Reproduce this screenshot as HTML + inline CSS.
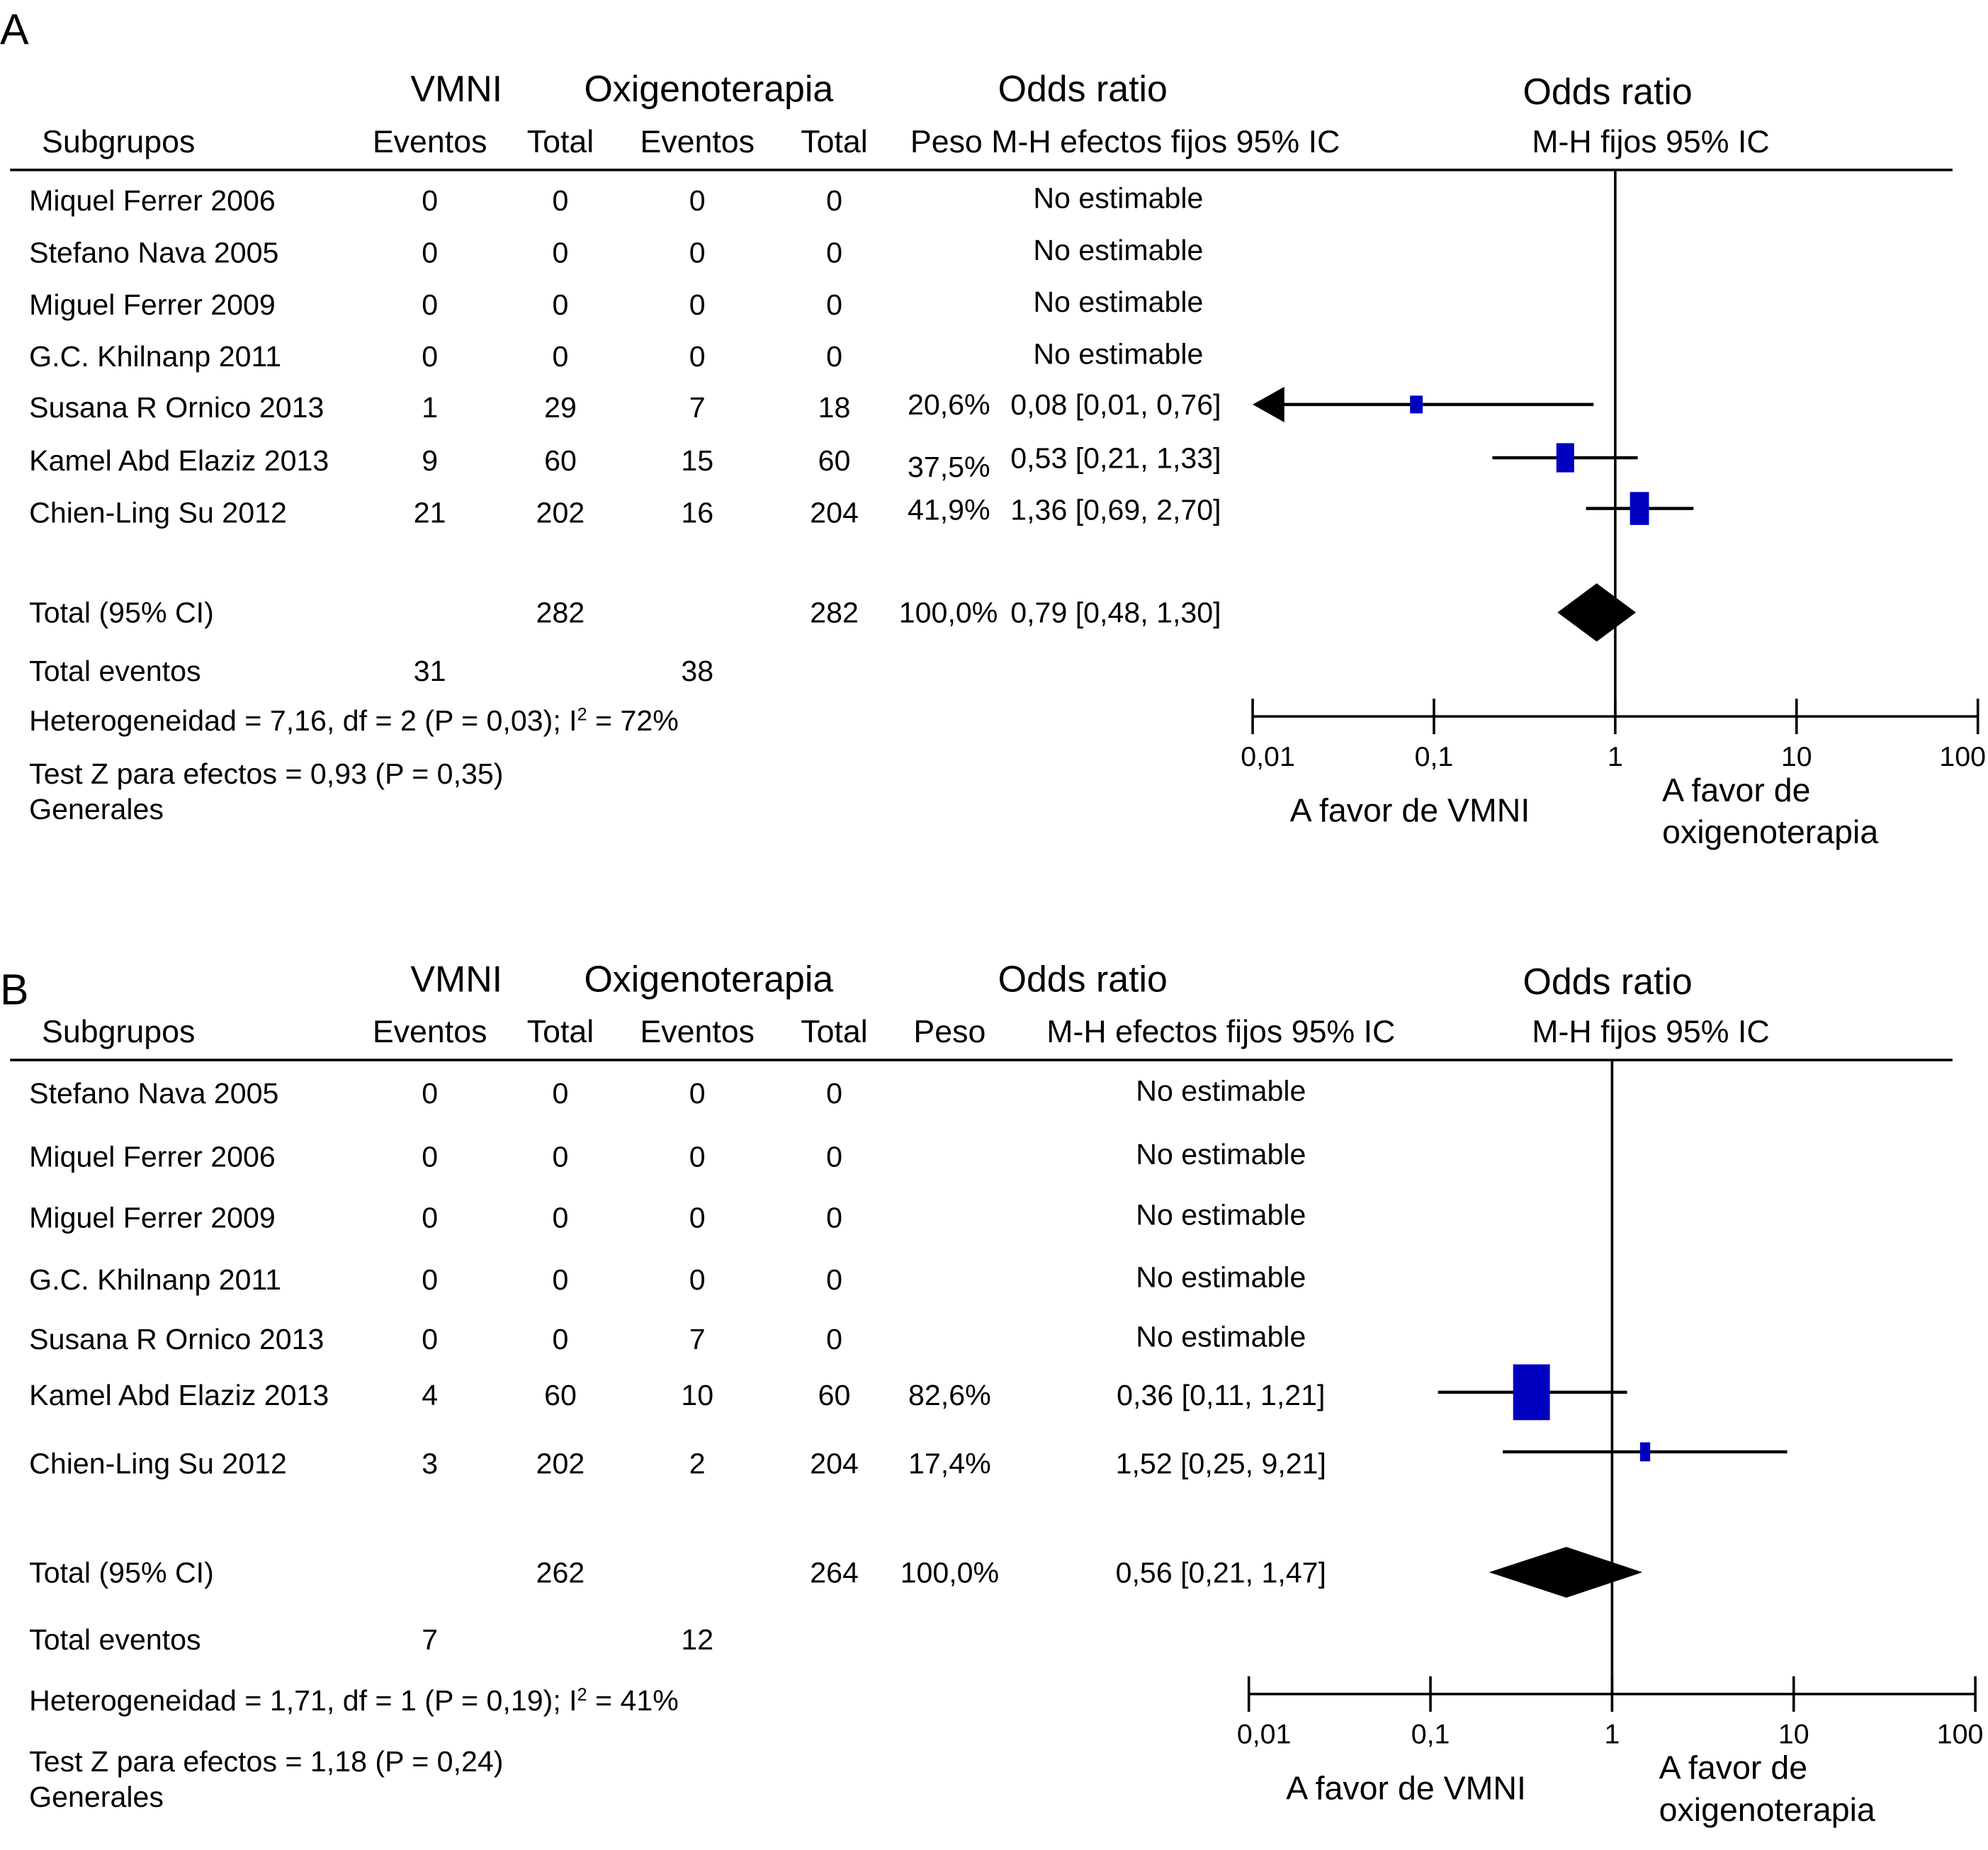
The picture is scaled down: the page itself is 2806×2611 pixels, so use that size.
<!DOCTYPE html>
<html><head><meta charset="utf-8"><style>
html,body{margin:0;padding:0;background:#fff}
svg{display:block}
text{font-family:"Liberation Sans",Arial,sans-serif;fill:#000}
</style></head><body>
<svg id="fig" width="2806" height="2611" viewBox="0 0 1568 1459" xmlns="http://www.w3.org/2000/svg"></svg>
<script>
// ---------- Panel A data ----------
const studiesA = ["Miquel Ferrer 2006","Stefano Nava 2005","Miguel Ferrer 2009","G.C. Khilnanp 2011","Susana R Ornico 2013","Kamel Abd Elaziz 2013","Chien-Ling Su 2012"];
const vmniEvA = ["0","0","0","0","1","9","21"];
const vmniTotA = ["0","0","0","0","29","60","202"];
const oxiEvA = ["0","0","0","0","7","15","16"];
const oxiTotA = ["0","0","0","0","18","60","204"];
const pesoA = ["","","","","20,6%","37,5%","41,9%"];
const orTextA = ["No estimable","No estimable","No estimable","No estimable","0,08 [0,01, 0,76]","0,53 [0,21, 1,33]","1,36 [0,69, 2,70]"];
const orA = [null,null,null,null,0.08,0.53,1.36];
const loA = [null,null,null,null,0.01,0.21,0.69];
const hiA = [null,null,null,null,0.76,1.33,2.70];
const wA = [0,0,0,0,20.6,37.5,41.9];
const totalA = {or:0.79, lo:0.48, hi:1.30};
// ---------- Panel B data ----------
const studiesB = ["Stefano Nava 2005","Miquel Ferrer 2006","Miguel Ferrer 2009","G.C. Khilnanp 2011","Susana R Ornico 2013","Kamel Abd Elaziz 2013","Chien-Ling Su 2012"];
const vmniEvB = ["0","0","0","0","0","4","3"];
const vmniTotB = ["0","0","0","0","0","60","202"];
const oxiEvB = ["0","0","0","0","7","10","2"];
const oxiTotB = ["0","0","0","0","0","60","204"];
const pesoB = ["","","","","","82,6%","17,4%"];
const orTextB = ["No estimable","No estimable","No estimable","No estimable","No estimable","0,36 [0,11, 1,21]","1,52 [0,25, 9,21]"];
const orB = [null,null,null,null,null,0.36,1.52];
const loB = [null,null,null,null,null,0.11,0.25];
const hiB = [null,null,null,null,null,1.21,9.21];
const wB = [0,0,0,0,0,82.6,17.4];
const totalB = {or:0.56, lo:0.21, hi:1.47};
const ticks = [0.01,0.1,1,10,100];
const tickLabels = ["0,01","0,1","1","10","100"];

const svg = document.getElementById('fig');
const NS = "http://www.w3.org/2000/svg";
const FS = 23;
function mk(tag, attrs, parent){const e=document.createElementNS(NS,tag);for(const k in attrs)e.setAttribute(k,attrs[k]);(parent||svg).appendChild(e);return e;}
function txt(s,x,y,size,anchor,name){const t=mk('text',{x:x,y:y,'font-size':size,'text-anchor':anchor||'start'});t.textContent=s;


return t;}

function panel(cfg){
  const g = mk('g',{});
  
  
  const X = v => cfg.x1 + (Math.log10(v)+2)*(cfg.x100-cfg.x1)/4;
  txt(cfg.label,0,cfg.labelY,34,'start','panel-label');
  txt("VMNI",360,cfg.h1+10,29,'middle','vmni-header');
  txt("Oxigenoterapia",559,cfg.h1+10,29,'middle','oxigenoterapia-header');
  txt("Odds ratio",854,cfg.h1+10,29,'middle','odds-ratio-header');
  txt("Odds ratio",1268,cfg.h1+12,29,'middle','plot-odds-ratio-header');
  const h2=cfg.h2+9;
  txt("Subgrupos",33,h2,25,'start','subgrupos-header');
  txt("Eventos",339,h2,25,'middle','vmni-eventos-header');
  txt("Total",442,h2,25,'middle','vmni-total-header');
  txt("Eventos",550,h2,25,'middle','oxi-eventos-header');
  txt("Total",658,h2,25,'middle','oxi-total-header');
  if(cfg.label==="A"){ txt("Peso  M-H efectos fijos 95% IC",718,h2,25,'start','peso-mh-header'); }
  else { txt("Peso",749,h2,25,'middle','peso-header'); txt("M-H efectos fijos 95% IC",963,h2,25,'middle','mh-header'); }
  txt("M-H fijos 95% IC",1302,h2,25,'middle','plot-mh-header');
  const hl=mk('line',{x1:8,x2:1540,y1:cfg.lineY,y2:cfg.lineY,stroke:'#000','stroke-width':2});
  
  
  const nl=mk('line',{x1:X(1),x2:X(1),y1:cfg.lineY,y2:cfg.axisY,stroke:'#000','stroke-width':2});
  
  
  for(let i=0;i<cfg.studies.length;i++){
    const y=cfg.rows[i], b=y+8;
    txt(cfg.studies[i],23,b,FS,'start','study-name');
    txt(cfg.ve[i],339,b,FS,'middle','vmni-events');
    txt(cfg.vt[i],442,b,FS,'middle','vmni-total');
    txt(cfg.oe[i],550,b,FS,'middle','oxi-events');
    txt(cfg.ot[i],658,b,FS,'middle','oxi-total');
    if(cfg.peso[i]) txt(cfg.peso[i],cfg.pesoX,b+(cfg.pesoDy?cfg.pesoDy[i]:0),FS,cfg.pesoAnchor,'weight');
    if(cfg.or[i]===null) txt(cfg.ort[i],cfg.neX,b-2,FS,'middle','or-text');
    else txt(cfg.ort[i],cfg.orX,b-(cfg.label==="A"?2:0),FS,cfg.orAnchor,'or-text');
    if(cfg.or[i]!==null){
      const my=cfg.markY[i];
      const lo=Math.max(cfg.lo[i],0.01);
      let x0=X(lo);
      if(cfg.lo[i]<=0.01){
        const ar=mk('polygon',{points:`${X(0.01)},${my} ${X(0.01)+25},${my-14} ${X(0.01)+25},${my+14}`,fill:'#000'});
        
        
        x0=X(0.01)+20;
      }
      const ci=mk('line',{x1:x0,x2:X(cfg.hi[i]),y1:my,y2:my,stroke:'#000','stroke-width':2.5});
      
      
      const w=cfg.sqW[i], h=cfg.sqH[i];
      const sq=mk('rect',{x:X(cfg.or[i])-w/2,y:my-h/2,width:w,height:h,fill:'#0000c0'});
      
      
    }
  }
  const tb=cfg.totY+8;
  txt("Total (95% CI)",23,tb,FS,'start','total-label');
  txt(cfg.tt[0],442,tb,FS,'middle','vmni-total-sum');
  txt(cfg.tt[1],658,tb,FS,'middle','oxi-total-sum');
  txt("100,0%",cfg.label==="A"?748:749,tb,FS,'middle','total-weight');
  txt(cfg.totOrText,cfg.orX,tb,FS,cfg.orAnchor,'total-or-text');
  const T=cfg.total, d=cfg.diaH;
  const dia=mk('polygon',{points:`${X(T.lo)},${cfg.totY} ${X(T.or)},${cfg.totY-d} ${X(T.hi)},${cfg.totY} ${X(T.or)},${cfg.totY+d}`,fill:'#000'});
  
  
  txt("Total eventos",23,cfg.evY+8,FS,'start','total-events-label');
  txt(cfg.te[0],339,cfg.evY+8,FS,'middle','vmni-total-events');
  txt(cfg.te[1],550,cfg.evY+8,FS,'middle','oxi-total-events');
  const het=txt("",23,cfg.hetY+8,FS,'start','heterogeneity');
  het.innerHTML=cfg.het;
  txt(cfg.testZ,23,cfg.testY+8,FS,'start','test-z');
  txt("Generales",23,cfg.testY+36,FS,'start','test-z-continued');
  const ax=mk('line',{x1:X(0.01),x2:X(100),y1:cfg.axisY,y2:cfg.axisY,stroke:'#000','stroke-width':2});
  
  
  ticks.forEach((t,i)=>{
    const tk=mk('line',{x1:X(t),x2:X(t),y1:cfg.axisY-14,y2:cfg.axisY+14,stroke:'#000','stroke-width':2});
    
    
    const lx = i===0?X(t)+12:(i===4?X(t)-12:X(t));
    txt(tickLabels[i],lx,cfg.axisY+39,22,'middle','x-tick-label');
  });
  txt("A favor de VMNI",X(0.01)+124,cfg.axisY+83,26,'middle','favours-vmni-label');
  txt("A favor de",X(1)+37,cfg.axisY+67,26,'start','favours-oxygen-label');
  txt("oxigenoterapia",X(1)+37,cfg.axisY+100,26,'start','favours-oxygen-label-line2');
}

panel({name:'panel-a',label:'A',labelY:35,h1:70,h2:111,lineY:134,x1:988,x100:1560,axisY:565,
  studies:studiesA,ve:vmniEvA,vt:vmniTotA,oe:oxiEvA,ot:oxiTotA,peso:pesoA,ort:orTextA,or:orA,lo:loA,hi:hiA,
  rows:[158,199,240,281,321,363,404],markY:[0,0,0,0,319,361,401],sqW:[0,0,0,0,10,14,15],sqH:[0,0,0,0,14,23,26],
  pesoX:781,pesoAnchor:'end',pesoDy:[0,0,0,0,-2,5,-2],neX:882,orX:797,orAnchor:'start',
  totY:483,total:totalA,diaH:23,tt:["282","282"],totOrText:"0,79 [0,48, 1,30]",
  evY:529,te:["31","38"],het:'Heterogeneidad = 7,16, df = 2 (P = 0,03); I<tspan font-size="14" dy="-8">2</tspan><tspan dy="8"> = 72%</tspan>',hetY:568,
  testZ:"Test Z para efectos = 0,93 (P = 0,35)",testY:610});
panel({name:'panel-b',label:'B',labelY:792,h1:772,h2:813,lineY:836,x1:985,x100:1558,axisY:1336,
  studies:studiesB,ve:vmniEvB,vt:vmniTotB,oe:oxiEvB,ot:oxiTotB,peso:pesoB,ort:orTextB,or:orB,lo:loB,hi:hiB,
  rows:[862,912,960,1009,1056,1100,1154],markY:[0,0,0,0,0,1098,1145],sqW:[0,0,0,0,0,29,8],sqH:[0,0,0,0,0,44,15],
  pesoX:749,pesoAnchor:'middle',neX:963,orX:963,orAnchor:'middle',
  totY:1240,total:totalB,diaH:20,tt:["262","264"],totOrText:"0,56 [0,21, 1,47]",
  evY:1293,te:["7","12"],het:'Heterogeneidad = 1,71, df = 1 (P = 0,19); I<tspan font-size="14" dy="-8">2</tspan><tspan dy="8"> = 41%</tspan>',hetY:1341,
  testZ:"Test Z para efectos = 1,18 (P = 0,24)",testY:1389});
</script>
</body></html>
